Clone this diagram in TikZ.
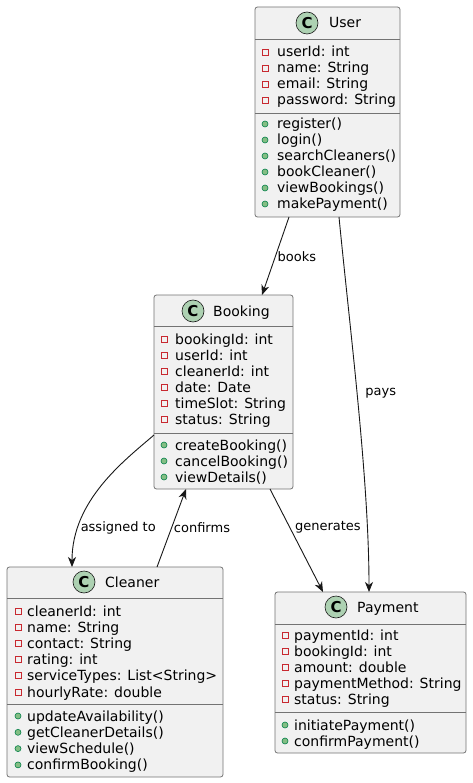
\documentclass[tikz,border=0pt]{standalone}
\usepackage{fontspec}
\setmainfont{DejaVu Sans}
\usetikzlibrary{arrows.meta}
\definecolor{boxfill}{HTML}{F1F1F1}
\definecolor{boxline}{HTML}{181818}
\definecolor{spotfill}{HTML}{ADD1B2}
\definecolor{privred}{HTML}{C82930}
\definecolor{pubgreen}{HTML}{038048}
\definecolor{pubfill}{HTML}{84BE84}
\tikzset{
  classbox/.style={draw=black!55,fill=boxfill,line width=0.8pt,rounded corners=2.5pt,anchor=north west,inner sep=0pt,outer sep=0pt},
  sepline/.style={draw=black!55,line width=0.8pt},
  spot/.style={circle,draw=boxline,line width=0.6pt,fill=spotfill,minimum size=22pt,inner sep=0pt,font=\fontsize{15}{15}\selectfont\bfseries},
  ctitle/.style={anchor=base west,inner sep=0pt,font=\fontsize{14}{16}\selectfont},
  member/.style={anchor=base west,inner sep=0pt,font=\fontsize{14}{16}\selectfont},
  privicon/.style={draw=privred,line width=0.8pt,minimum size=6pt,inner sep=0pt},
  pubicon/.style={circle,draw=pubgreen,fill=pubfill,line width=0.6pt,minimum size=6pt,inner sep=0pt},
  assoc/.style={draw=boxline,line width=0.9pt,-{Stealth[length=10pt,width=8pt,inset=3pt]}},
  lbl/.style={anchor=west,inner sep=2pt,font=\fontsize{13}{15}\selectfont}
}
\begin{document}
\begin{tikzpicture}[x=1pt,y=-1pt]
\useasboundingbox[fill=white] (0,0) rectangle (472,783);
% User
\node[classbox,minimum width=145pt,minimum height=210pt] (user) at (255,7) {};
\draw[sepline] (255,39) -- (400,39) (255,113) -- (400,113);
\node[spot] (userC) at (307,23) {C};
\node[ctitle] (userT) at (329,28) {User};
\foreach \t [count=\i] in {userId: int,name: String,email: String,password: String}{
  \node[privicon] (uap\i) at (265,{52+16*(\i-1)}) {};
  \node[member] (ua\i) at (277,{57+16*(\i-1)}) {\t};
}
\foreach \t [count=\i] in {register(),login(),searchCleaners(),bookCleaner(),viewBookings(),makePayment()}{
  \node[pubicon] (ump\i) at (265,{124+16*(\i-1)}) {};
  \node[member] (um\i) at (277,{129+16*(\i-1)}) {\t};
}
% Booking
\node[classbox,minimum width=139pt,minimum height=194pt] (booking) at (154,295) {};
\draw[sepline] (154,326) -- (293,326) (154,433) -- (293,433);
\node[spot] (bookingC) at (193,311) {C};
\node[ctitle] (bookingT) at (213,316) {Booking};
\foreach \t [count=\i] in {bookingId: int,userId: int,cleanerId: int,date: Date,timeSlot: String,status: String}{
  \node[privicon] (bap\i) at (164,{339+16*(\i-1)}) {};
  \node[member] (ba\i) at (175,{344+16*(\i-1)}) {\t};
}
\foreach \t [count=\i] in {createBooking(),cancelBooking(),viewDetails()}{
  \node[pubicon] (bmp\i) at (164,{445+16*(\i-1)}) {};
  \node[member] (bm\i) at (175,{450+16*(\i-1)}) {\t};
}
% Cleaner
\node[classbox,minimum width=216pt,minimum height=210pt] (cleaner) at (7,567) {};
\draw[sepline] (7,598) -- (223,598) (7,704) -- (223,704);
\node[spot] (cleanerC) at (84,582) {C};
\node[ctitle] (cleanerT) at (105,587) {Cleaner};
\foreach \t [count=\i] in {cleanerId: int,name: String,contact: String,rating: int,serviceTypes: List<String>,hourlyRate: double}{
  \node[privicon] (cap\i) at (18,{611+16.2*(\i-1)}) {};
  \node[member] (ca\i) at (27,{616+16.2*(\i-1)}) {\t};
}
\foreach \t [count=\i] in {updateAvailability(),getCleanerDetails(),viewSchedule(),confirmBooking()}{
  \node[pubicon] (cmp\i) at (18,{716+16.3*(\i-1)}) {};
  \node[member] (cm\i) at (27,{721+16.3*(\i-1)}) {\t};
}
% Payment
\node[classbox,minimum width=191pt,minimum height=161pt] (payment) at (275,592) {};
\draw[sepline] (275,624) -- (466,624) (275,712) -- (466,712);
\node[spot] (paymentC) at (336,607) {C};
\node[ctitle] (paymentT) at (357,612) {Payment};
\foreach \t [count=\i] in {paymentId: int,bookingId: int,amount: double,paymentMethod: String,status: String}{
  \node[privicon] (pap\i) at (285,{635+16*(\i-1)}) {};
  \node[member] (pa\i) at (294,{640+16*(\i-1)}) {\t};
}
\foreach \t [count=\i] in {initiatePayment(),confirmPayment()}{
  \node[pubicon] (pmp\i) at (285,{725+16*(\i-1)}) {};
  \node[member] (pm\i) at (294,{730+16*(\i-1)}) {\t};
}
% associations
\draw[assoc] ([xshift=-38.5pt]user.south) -- ([xshift=38.5pt]booking.north) node[lbl,pos=0.51] (lbooks) {books};
\draw[assoc] ([xshift=11.5pt]user.south) .. controls (350,330) and (369,480) .. ([xshift=-1.5pt]payment.north) node[lbl,pos=0.47,xshift=6pt] (lpays) {pays};
\draw[assoc] ([yshift=-43pt]booking.west) .. controls (125,460) and (72,500) .. ([xshift=-43pt]cleaner.north) node[lbl,pos=0.79] (lassigned) {assigned to};
\draw[assoc] ([xshift=42pt]cleaner.north) -- ([xshift=-37.5pt]booking.south) node[lbl,pos=0.5] (lconfirms) {confirms};
\draw[assoc] ([xshift=46.5pt]booking.south) -- ([xshift=-47.5pt]payment.north) node[lbl,pos=0.37,xshift=3pt] (lgenerates) {generates};
\end{tikzpicture}
\end{document}
